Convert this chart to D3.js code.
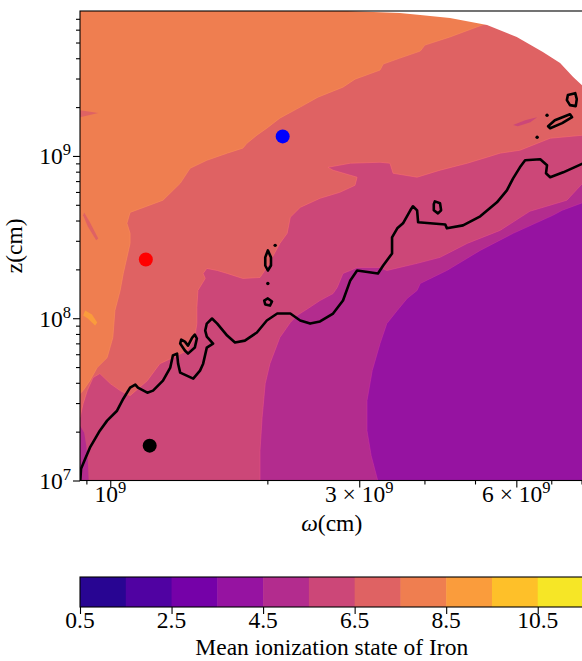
<!DOCTYPE html>
<html><head><meta charset="utf-8">
<script src="https://cdn.jsdelivr.net/npm/d3@7"></script>
<style>
body{margin:0;background:#fff}
svg{display:block}
text{font-family:"Liberation Serif","Times New Roman",serif;fill:#000}
</style>
</head><body>
<script>
// ---------------- DATA ----------------
// axis extents (cm)
const xDomain = [8.75e8, 8.07e9];
const yDomain = [1e7, 7.82e9];
// contour levels of the mean ionization state
const levels = [0.5,1.5,2.5,3.5,4.5,5.5,6.5,7.5,8.5,9.5,10.5,11.5];
const cbTicks = [0.5,2.5,4.5,6.5,8.5,10.5];
const cbLabel = "Mean ionization state of Iron";
// axis ticks
const xMajor = [1e9, 3e9, 6e9];
const xMajorMant = ["", "3", "6"];
const xMajorExp = ["9", "9", "9"];
const xMinor = [9e8, 2e9, 4e9, 5e9, 7e9, 8e9];
const yMajor = [1e7, 1e8, 1e9];
const yMajorExp = ["7", "8", "9"];
const xLabel = "(cm)", yLabel = "z(cm)";

// filled-contour band boundaries, points are [log10(ω/cm), log10(z/cm)]
const baseValue = 4;            // value of the lowest band in view
const B45 = [[9.907,8.714],[9.866,8.665],[9.848,8.634],[9.772,8.523],[9.709,8.418],[9.645,8.294],[9.594,8.214],[9.588,8.171],[9.569,8.122],[9.550,8.048],[9.530,7.967],[9.517,7.844],[9.502,7.677],[9.492,7.492],[9.492,7.307],[9.500,7.153],[9.515,6.97]];
const B56 = [[9.907,8.838],[9.875,8.727],[9.804,8.659],[9.747,8.541],[9.684,8.461],[9.632,8.375],[9.588,8.338],[9.555,8.313],[9.530,8.294],[9.517,8.313],[9.473,8.313],[9.460,8.294],[9.446,8.276],[9.435,8.190],[9.427,8.152],[9.402,8.109],[9.379,8.060],[9.358,8.017],[9.345,7.973],[9.325,7.881],[9.306,7.720],[9.297,7.597],[9.291,7.387],[9.287,7.183],[9.287,6.97]];
const B67 = [[9.907,9.128],[9.843,9.109],[9.785,9.035],[9.747,9.017],[9.722,8.992],[9.684,8.955],[9.632,8.912],[9.588,8.869],[9.542,8.893],[9.536,8.955],[9.517,8.961],[9.460,8.955],[9.417,8.930],[9.427,8.912],[9.473,8.869],[9.469,8.819],[9.440,8.776],[9.402,8.739],[9.364,8.683],[9.345,8.622],[9.339,8.523],[9.325,8.461],[9.300,8.313],[9.287,8.251],[9.254,8.245],[9.224,8.276],[9.205,8.294],[9.185,8.307],[9.178,8.276],[9.182,8.245],[9.168,8.171],[9.166,8.066],[9.166,7.967],[9.162,7.881],[9.147,7.801],[9.120,7.757],[9.095,7.720],[9.071,7.615],[9.038,7.523],[9.019,7.554],[9.000,7.597],[8.980,7.659],[8.967,7.634],[8.956,7.554],[8.948,7.473],[8.942,7.387]];
const B78 = [[9.718,9.813],[9.651,9.733],[9.603,9.683],[9.594,9.646],[9.555,9.603],[9.523,9.566],[9.517,9.529],[9.469,9.473],[9.446,9.424],[9.398,9.362],[9.364,9.301],[9.325,9.233],[9.300,9.171],[9.281,9.128],[9.262,9.078],[9.254,9.048],[9.224,9.017],[9.185,8.973],[9.153,8.924],[9.134,8.831],[9.101,8.727],[9.038,8.652],[9.032,8.585],[9.038,8.523],[9.038,8.461],[9.025,8.276],[9.019,8.171],[9.009,8.048],[9.005,7.881],[8.994,7.757],[8.975,7.696],[8.961,7.615],[8.948,7.554],[8.942,7.535]];
const bandLevels = [4.5, 5.5, 6.5, 7.5];
const bandLines = [B45, B56, B67, B78];

// small islands: value and polygon
const islandValues = [5, 7, 7, 6, 9];
const islandShapes = [
  [[8.90,7.338],[8.942,7.338],[8.950,7.294],[8.954,7.214],[8.957,7.122],[8.959,6.97],[8.90,6.97]],
  [[8.90,9.282],[8.942,9.282],[8.977,9.264],[8.942,9.239],[8.90,9.239]],
  [[8.950,8.652],[8.961,8.591],[8.977,8.492],[8.973,8.480],[8.957,8.566],[8.948,8.634]],
  [[9.772,9.190],[9.795,9.220],[9.818,9.239],[9.805,9.208],[9.781,9.183]],
  [[8.952,8.047],[8.965,8.023],[8.975,7.973],[8.971,7.955],[8.957,7.998],[8.948,8.017]]
];
// outer edge of the computational domain (upper right)
const domainEdge = [[9.40,9.90],[9.454,9.893],[9.555,9.881],[9.594,9.869],[9.651,9.850],[9.722,9.807],[9.779,9.733],[9.829,9.640],[9.862,9.572],[9.887,9.486],[9.904,9.436],[9.93,9.30]];

// black contour line and its closed loops
const contourMain = [[8.942,6.97],[8.944,7.072],[8.952,7.134],[8.961,7.202],[8.980,7.307],[8.994,7.369],[9.013,7.430],[9.025,7.504],[9.038,7.572],[9.048,7.591],[9.053,7.572],[9.071,7.541],[9.082,7.554],[9.101,7.615],[9.115,7.696],[9.120,7.770],[9.128,7.782],[9.130,7.720],[9.134,7.665],[9.159,7.628],[9.172,7.677],[9.178,7.720],[9.185,7.819],[9.197,7.844],[9.185,7.887],[9.182,7.924],[9.185,7.967],[9.195,7.998],[9.205,7.967],[9.224,7.893],[9.239,7.850],[9.258,7.862],[9.281,7.912],[9.300,7.986],[9.320,8.029],[9.345,8.029],[9.364,7.986],[9.383,7.967],[9.402,7.980],[9.427,8.029],[9.446,8.109],[9.460,8.233],[9.473,8.294],[9.513,8.276],[9.523,8.325],[9.540,8.399],[9.540,8.498],[9.550,8.554],[9.561,8.585],[9.575,8.665],[9.580,8.690],[9.588,8.665],[9.590,8.591],[9.613,8.585],[9.642,8.578],[9.645,8.554],[9.676,8.572],[9.709,8.628],[9.741,8.714],[9.760,8.788],[9.772,8.862],[9.785,8.930],[9.795,8.973],[9.824,8.980],[9.837,8.943],[9.835,8.893],[9.843,8.869],[9.868,8.899],[9.907,8.955]];
const contourLoops = [
  [[9.134,7.844],[9.143,7.801],[9.149,7.782],[9.162,7.819],[9.166,7.875],[9.162,7.899],[9.157,7.881],[9.149,7.831],[9.143,7.856],[9.136,7.868]],
  [[9.302,8.418],[9.308,8.375],[9.308,8.325],[9.302,8.294],[9.297,8.325],[9.297,8.375]],
  [[9.295,8.109],[9.302,8.122],[9.310,8.103],[9.306,8.078],[9.297,8.085]],
  [[9.622,8.720],[9.632,8.708],[9.634,8.665],[9.628,8.646],[9.620,8.665],[9.620,8.702]],
  [[9.877,9.375],[9.891,9.387],[9.894,9.350],[9.892,9.307],[9.881,9.313],[9.875,9.344]],
  [[9.839,9.183],[9.852,9.220],[9.881,9.257],[9.885,9.239],[9.866,9.202],[9.843,9.171]]
];
const contourDots = [[9.316,8.449],[9.302,8.214],[9.837,9.251],[9.818,9.115]];

// marked positions (cm)
const markerW = [2.14e9, 1.17e9, 1.19e9];
const markerZ = [1.32e9, 2.30e8, 1.64e7];
const markerColors = ["#0000ff", "#ff0000", "#000000"];

// ---------------- DRAWING ----------------
const W = 582, H = 661;
const L = 80, R = 583.5, T = 11, B = 480.5;
const svg = d3.select("body").append("svg").attr("width", W).attr("height", H);

const x = d3.scaleLog().domain(xDomain).range([L, R]);
const y = d3.scaleLog().domain(yDomain).range([B, T]);
const vmin = levels[0], vmax = levels[levels.length - 1];
const color = v => d3.interpolatePlasma((v - vmin) / (vmax - vmin));

const lineG = d3.line().x(d => x(10 ** d[0])).y(d => y(10 ** d[1]));
const polyG = d3.line().x(d => x(10 ** d[0])).y(d => y(10 ** d[1])).curve(d3.curveLinearClosed);

const X0 = Math.log10(xDomain[0]) - 0.1, X1 = Math.log10(xDomain[1]) + 0.1;
const Y1 = Math.log10(yDomain[1]) + 0.1;
function upperLeft(line) {
  const f = line[0], l = line[line.length - 1];
  return [[X1, f[1]], ...line, [X0, l[1]], [X0, Y1], [X1, Y1]];
}

svg.append("clipPath").attr("id", "clip").append("rect")
  .attr("x", L).attr("y", T).attr("width", R - L).attr("height", B - T);
const plot = svg.append("g").attr("clip-path", "url(#clip)");

plot.append("rect").attr("x", L).attr("y", T).attr("width", R - L).attr("height", B - T)
  .attr("fill", color(baseValue));

bandLines.forEach((ln, i) => {
  const c = color(bandLevels[i] + 0.5);
  plot.append("path").attr("d", polyG(upperLeft(ln))).attr("fill", c)
    .attr("stroke", d3.color(c).brighter(0.4)).attr("stroke-width", 0.5);
  if (i === 1) { // magenta strip at the bottom-left edge lies inside band 6
    plot.append("path").attr("d", polyG(islandShapes[0])).attr("fill", color(islandValues[0]));
  }
});
islandShapes.forEach((s, i) => {
  if (i === 0) return;
  plot.append("path").attr("d", polyG(s)).attr("fill", color(islandValues[i]));
});

// outside of the domain
plot.append("path")
  .attr("d", polyG([...domainEdge, [X1, domainEdge[domainEdge.length - 1][1]], [X1, Y1], [domainEdge[0][0], Y1]]))
  .attr("fill", "#ffffff");

// black contour
plot.append("path").attr("d", lineG(contourMain)).attr("fill", "none")
  .attr("stroke", "#000").attr("stroke-width", 2.6).attr("stroke-linejoin", "round");
contourLoops.forEach(lp => plot.append("path").attr("d", polyG(lp)).attr("fill", "none")
  .attr("stroke", "#000").attr("stroke-width", 2.6).attr("stroke-linejoin", "round"));
contourDots.forEach(d => plot.append("circle").attr("cx", x(10 ** d[0])).attr("cy", y(10 ** d[1]))
  .attr("r", 1.7).attr("fill", "#000"));

// markers
markerW.forEach((w, i) => svg.append("circle").attr("cx", x(w)).attr("cy", y(markerZ[i]))
  .attr("r", 7).attr("fill", markerColors[i]));

// spines
svg.append("rect").attr("x", L).attr("y", T).attr("width", R - L).attr("height", B - T)
  .attr("fill", "none").attr("stroke", "#000").attr("stroke-width", 1.1);

// ticks
function ticks(g, axis) {
  g.call(axis);
  g.select(".domain").remove();
  g.selectAll(".tick line").attr("stroke", "#000").attr("stroke-width", 1.1);
  g.selectAll(".tick text").remove();
}
ticks(svg.append("g").attr("transform", `translate(0,${B})`), d3.axisBottom(x).tickValues(xMinor).tickSize(4));
ticks(svg.append("g").attr("transform", `translate(0,${B})`), d3.axisBottom(x).tickValues(xMajor).tickSize(7));
const yMinor = y.ticks().filter(v => !yMajor.includes(v));
ticks(svg.append("g").attr("transform", `translate(${L},0)`), d3.axisLeft(y).tickValues(yMinor).tickSize(4));
ticks(svg.append("g").attr("transform", `translate(${L},0)`), d3.axisLeft(y).tickValues(yMajor).tickSize(7));

const FS = 23.5, SFS = 16.5;
xMajor.forEach((v, i) => {
  const t = svg.append("text").attr("x", x(v)).attr("y", 502).attr("text-anchor", "middle").attr("font-size", FS);
  t.append("tspan").text(xMajorMant[i] ? xMajorMant[i] + " \u00d7 10" : "10");
  t.append("tspan").attr("dy", -9).attr("font-size", SFS).text(xMajorExp[i]);
});
yMajor.forEach((v, i) => {
  const t = svg.append("text").attr("x", 71).attr("y", y(v) + 8.5).attr("text-anchor", "end").attr("font-size", FS);
  t.append("tspan").text("10");
  t.append("tspan").attr("dy", -9).attr("font-size", SFS).text(yMajorExp[i]);
});

// axis labels
const xl = svg.append("text").attr("x", (L + R) / 2).attr("y", 531).attr("text-anchor", "middle").attr("font-size", FS);
xl.append("tspan").attr("font-style", "italic").text("\u03c9");
xl.append("tspan").text(xLabel);
svg.append("text").attr("transform", `translate(22,${(T + B) / 2}) rotate(-90)`)
  .attr("text-anchor", "middle").attr("font-size", FS).text(yLabel);

// colorbar
const cbTop = 577, cbH = 30;
const cb = d3.scaleLinear().domain([vmin, vmax]).range([L, R]);
d3.pairs(levels).forEach(([a, b]) => {
  svg.append("rect").attr("x", cb(a)).attr("y", cbTop).attr("width", cb(b) - cb(a) + 0.5).attr("height", cbH)
    .attr("fill", color((a + b) / 2));
});
svg.append("rect").attr("x", L).attr("y", cbTop).attr("width", R - L).attr("height", cbH)
  .attr("fill", "none").attr("stroke", "#000").attr("stroke-width", 1.1);
ticks(svg.append("g").attr("transform", `translate(0,${cbTop + cbH})`), d3.axisBottom(cb).tickValues(cbTicks).tickSize(7));
cbTicks.forEach(v => svg.append("text").attr("x", cb(v)).attr("y", 628).attr("text-anchor", "middle")
  .attr("font-size", FS).text(v.toFixed(1)));
svg.append("text").attr("x", (L + R) / 2).attr("y", 655).attr("text-anchor", "middle").attr("font-size", FS).text(cbLabel);
</script>
</body></html>
